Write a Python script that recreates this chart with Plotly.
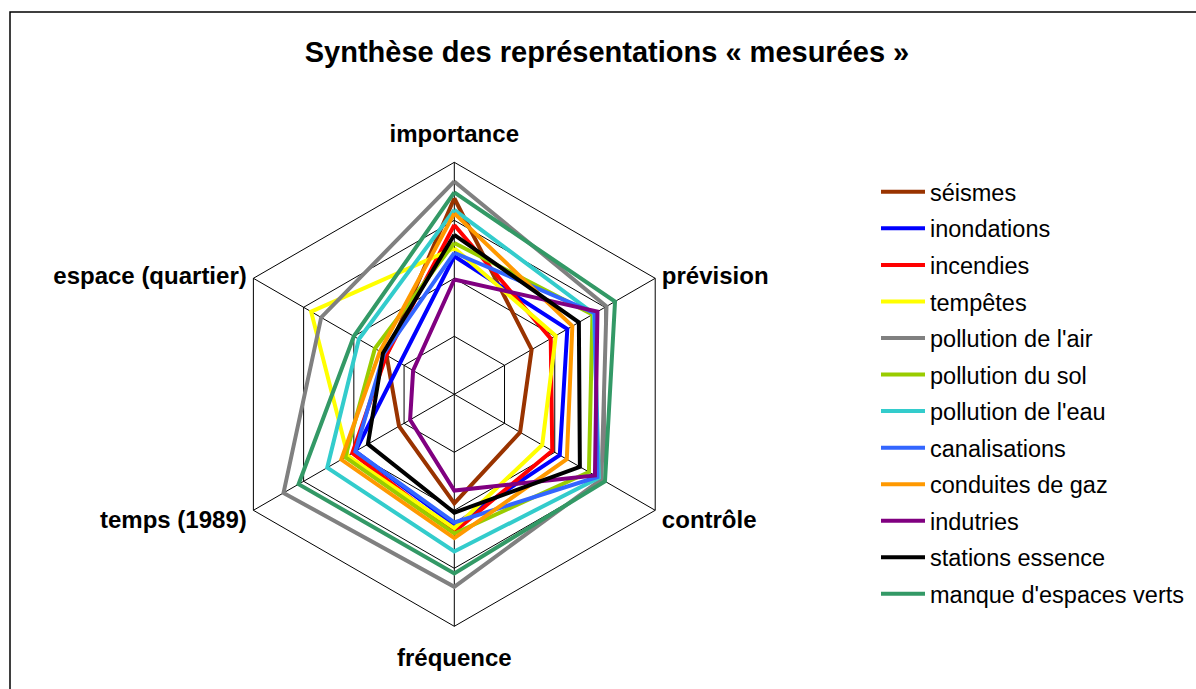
import plotly.graph_objects as go

# Axes of the radar, clockwise from the top
axes = ["importance", "prévision", "contrôle", "fréquence", "temps (1989)", "espace (quartier)"]

# One score per axis for each risk
seismes = [3.38, 1.54, 1.31, 1.88, 1.10, 1.35]
inondations = [2.38, 2.25, 2.10, 2.25, 1.97, 1.08]
incendies = [2.92, 1.92, 1.95, 2.37, 2.03, 1.35]
tempetes = [2.52, 2.02, 1.75, 2.31, 2.12, 2.85]
pollution_air = [3.67, 3.03, 2.93, 3.32, 3.40, 2.65]
pollution_sol = [2.61, 2.75, 2.68, 2.40, 2.17, 1.58]
pollution_eau = [3.18, 2.78, 2.88, 2.71, 2.53, 1.90]
canalisations = [2.44, 2.80, 2.85, 2.21, 1.97, 1.40]
conduites_gaz = [3.12, 2.35, 2.24, 2.48, 2.25, 1.48]
industries = [1.98, 2.85, 2.80, 1.66, 0.88, 0.82]
stations_essence = [2.75, 2.48, 2.50, 2.04, 1.72, 1.42]
espaces_verts = [3.48, 3.20, 3.00, 3.09, 3.10, 2.00]

series = [
    ("séismes", seismes, "#993300"),
    ("inondations", inondations, "#0000FF"),
    ("incendies", incendies, "#FF0000"),
    ("tempêtes", tempetes, "#FFFF00"),
    ("pollution de l'air", pollution_air, "#808080"),
    ("pollution du sol", pollution_sol, "#99CC00"),
    ("pollution de l'eau", pollution_eau, "#33CCCC"),
    ("canalisations", canalisations, "#3366FF"),
    ("conduites de gaz", conduites_gaz, "#FF9900"),
    ("indutries", industries, "#800080"),
    ("stations essence", stations_essence, "#000000"),
    ("manque d'espaces verts", espaces_verts, "#339966"),
]

FONT = "Arial, Liberation Sans, sans-serif"
R_MAX = 4
label_font = dict(size=24, family=FONT, weight="bold", color="black")

fig = go.Figure()
for i, (name, vals, color) in enumerate(series):
    fig.add_trace(go.Scatterpolar(
        r=vals + vals[:1],
        theta=axes + axes[:1],
        mode="lines",
        name=name,
        legendgroup=f"g{i}",
        line=dict(color=color, width=4),
    ))

# The side axis names sit beside their vertex of the outer ring
side = [1, 2, 4, 5]
fig.add_trace(go.Scatterpolar(
    r=[R_MAX] * len(side),
    theta=[axes[k] for k in side],
    text=[" " + axes[1], " " + axes[2], axes[4] + " ", axes[5] + " "],
    textposition=["middle right", "bottom right", "bottom left", "middle left"],
    mode="text", textfont=label_font,
    cliponaxis=False, showlegend=False, hoverinfo="skip",
))

# The top and bottom names are the angular tick labels
tick_text = [a if k in (0, 3) else "" for k, a in enumerate(axes)]

W, H = 1196, 689
cx, cy, R = 454.3, 394.3, 232.0

fig.update_layout(
    width=W, height=H,
    margin=dict(l=0, r=0, t=0, b=0),
    paper_bgcolor="white",
    plot_bgcolor="white",
    font=dict(family=FONT, color="black"),
    title=dict(
        text="Synthèse des représentations « mesurées »",
        x=607 / W, xanchor="center",
        y=1 - 52 / H, yanchor="middle",
        font=dict(size=29, family=FONT, weight="bold", color="black"),
    ),
    polar=dict(
        domain=dict(x=[(cx - R) / W, (cx + R) / W],
                    y=[1 - (cy + R) / H, 1 - (cy - R) / H]),
        gridshape="linear",
        bgcolor="white",
        radialaxis=dict(
            range=[0, R_MAX], dtick=1, showticklabels=False, ticks="",
            showline=False, gridcolor="black", gridwidth=1, angle=90,
        ),
        angularaxis=dict(
            rotation=90, direction="clockwise",
            showline=True, linecolor="black", linewidth=1,
            gridcolor="black", gridwidth=1,
            tickmode="array", tickvals=axes, ticktext=tick_text,
            # invisible outside ticks keep the names clear of the vertices
            ticks="outside", ticklen=10, tickcolor="rgba(0,0,0,0)",
            tickfont=label_font,
        ),
    ),
    legend=dict(
        x=876 / W, xanchor="left",
        y=1 - 170 / H, yanchor="top",
        font=dict(size=23.5, family=FONT, color="black"),
        itemwidth=44,
        tracegroupgap=3,
        bgcolor="rgba(0,0,0,0)",
    ),
    shapes=[dict(
        type="rect", xref="paper", yref="paper",
        x0=10 / W, x1=1.01, y0=-0.02, y1=1 - 12 / H,
        line=dict(color="black", width=1.5), fillcolor="rgba(0,0,0,0)",
    )],
)

fig.write_html("out.html")
